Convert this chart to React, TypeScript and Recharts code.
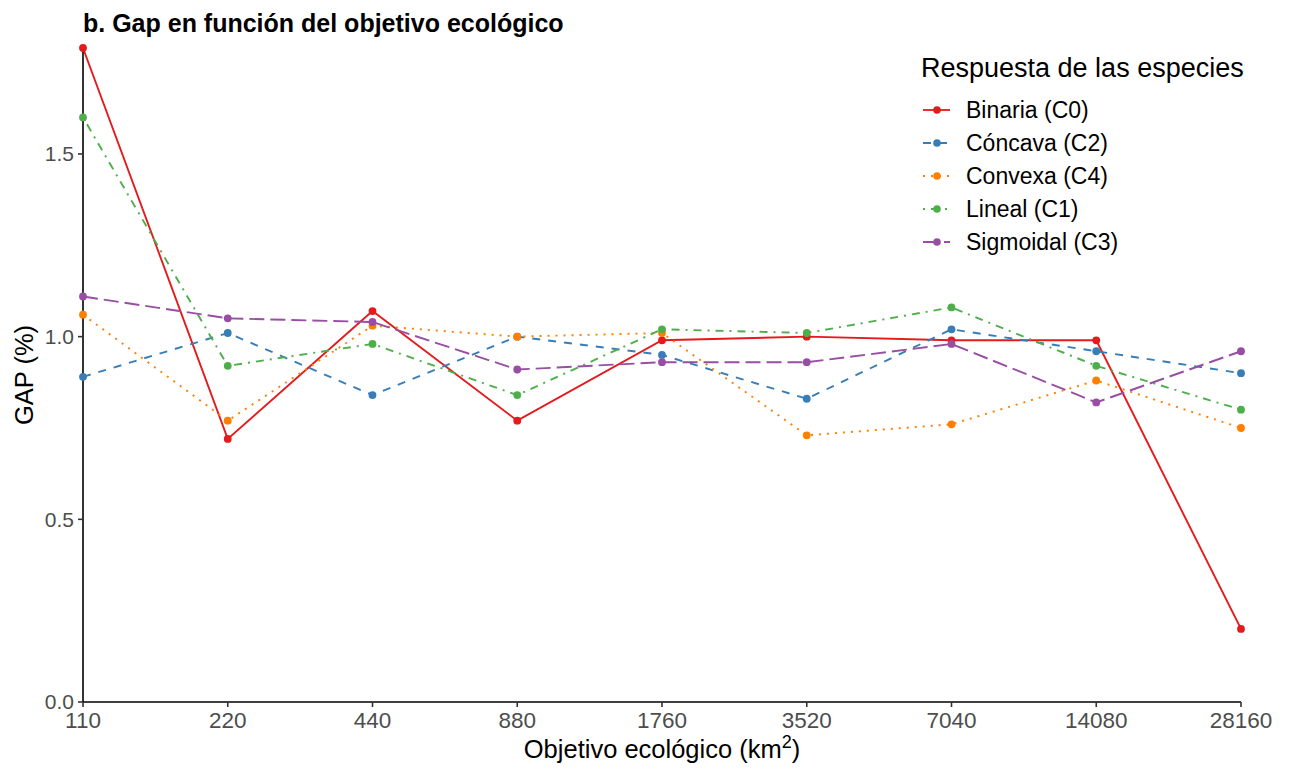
import { LineChart, Line, XAxis, YAxis } from 'recharts';

// Objetivo ecológico (km2), one entry per category on the x axis
const objetivos = ['110', '220', '440', '880', '1760', '3520', '7040', '14080', '28160'];

// GAP (%) for each species-response curve
const binaria = [1.79, 0.72, 1.07, 0.77, 0.99, 1.0, 0.99, 0.99, 0.2];
const concava = [0.89, 1.01, 0.84, 1.0, 0.95, 0.83, 1.02, 0.96, 0.9];
const convexa = [1.06, 0.77, 1.03, 1.0, 1.01, 0.73, 0.76, 0.88, 0.75];
const lineal = [1.6, 0.92, 0.98, 0.84, 1.02, 1.01, 1.08, 0.92, 0.8];
const sigmoidal = [1.11, 1.05, 1.04, 0.91, 0.93, 0.93, 0.98, 0.82, 0.96];

const yTicks = [0, 0.5, 1, 1.5];

const series = [
  { key: 'binaria', name: 'Binaria (C0)', values: binaria, color: '#E41A1C', dash: undefined },
  { key: 'concava', name: 'Cóncava (C2)', values: concava, color: '#377EB8', dash: '8 8' },
  { key: 'convexa', name: 'Convexa (C4)', values: convexa, color: '#FF7F00', dash: '2 6' },
  { key: 'lineal', name: 'Lineal (C1)', values: lineal, color: '#4DAF4A', dash: '2 6 8 6' },
  { key: 'sigmoidal', name: 'Sigmoidal (C3)', values: sigmoidal, color: '#984EA3', dash: '15 6' },
];

const data = objetivos.map((o, i) => {
  const row: Record<string, string | number> = { objetivo: o };
  series.forEach((s) => {
    row[s.key] = s.values[i];
  });
  return row;
});

const FONT = '"Liberation Sans", Arial, sans-serif';
const W = 1276;
const H = 756;

const XLabel = (props: any) => {
  const vb = props.viewBox || {};
  const cx = vb.x + vb.width / 2;
  return (
    <text x={cx} y={H - 6} textAnchor="middle" fontSize={25.5} fill="#000" fontFamily={FONT}>
      Objetivo ecológico (km
      <tspan fontSize={18} dy={-10}>2</tspan>
      <tspan dy={10}>)</tspan>
    </text>
  );
};

const YLabel = (props: any) => {
  const vb = props.viewBox || {};
  const cy = vb.y + vb.height / 2;
  return (
    <text
      x={25}
      y={cy}
      transform={`rotate(-90, 25, ${cy})`}
      textAnchor="middle"
      fontSize={25.5}
      fill="#000"
      fontFamily={FONT}
    >
      GAP (%)
    </text>
  );
};

// title and legend drawn on top of the chart
const Overlay = () => (
  <svg
    width={W}
    height={H}
    style={{ position: 'absolute', left: 0, top: 0, pointerEvents: 'none' }}
    fontFamily={FONT}
  >
    <text x={75} y={24} fontSize={25} fontWeight="bold" fill="#000">
      b. Gap en función del objetivo ecológico
    </text>
    <text x={913} y={69} fontSize={27} fill="#000">
      Respuesta de las especies
    </text>
    {series.map((s, i) => {
      const y = 102 + i * 33;
      return (
        <g key={s.key}>
          <line x1={915} x2={942} y1={y} y2={y} stroke={s.color} strokeWidth={1.8} strokeDasharray={s.dash} />
          <circle cx={929} cy={y} r={3.8} fill={s.color} />
          <text x={958} y={y + 7.5} fontSize={23} fill="#000">
            {s.name}
          </text>
        </g>
      );
    })}
  </svg>
);

export default function App() {
  return (
    <div style={{ position: 'relative', width: W, height: H, fontFamily: FONT, background: '#fff' }}>
      <LineChart width={W} height={H} data={data} margin={{ top: 40, right: 43, bottom: 0, left: 0 }}>
        <XAxis
          dataKey="objetivo"
          height={62}
          padding={{ left: 0, right: 0 }}
          axisLine={{ stroke: '#000', strokeWidth: 1.6 }}
          tickLine={{ stroke: '#333', strokeWidth: 1.6 }}
          tickSize={5}
          tick={{ fontSize: 22.5, fill: '#4D4D4D', fontFamily: FONT, dy: 3 }}
          interval={0}
          label={<XLabel />}
        />
        <YAxis
          width={75}
          domain={[0, 1.79]}
          ticks={yTicks}
          tickFormatter={(v: number) => v.toFixed(1)}
          axisLine={{ stroke: '#000', strokeWidth: 1.6 }}
          tickLine={{ stroke: '#333', strokeWidth: 1.6 }}
          tickSize={5}
          tick={{ fontSize: 21, fill: '#4D4D4D', fontFamily: FONT, dx: -2 }}
          label={<YLabel />}
        />
        {series.map((s) => (
          <Line
            key={s.key}
            type="linear"
            dataKey={s.key}
            name={s.name}
            stroke={s.color}
            strokeWidth={1.9}
            strokeDasharray={s.dash}
            dot={{ r: 3.9, fill: s.color, stroke: 'none', clipDot: false }}
            activeDot={false}
            isAnimationActive={false}
          />
        ))}
      </LineChart>
      <Overlay />
    </div>
  );
}
